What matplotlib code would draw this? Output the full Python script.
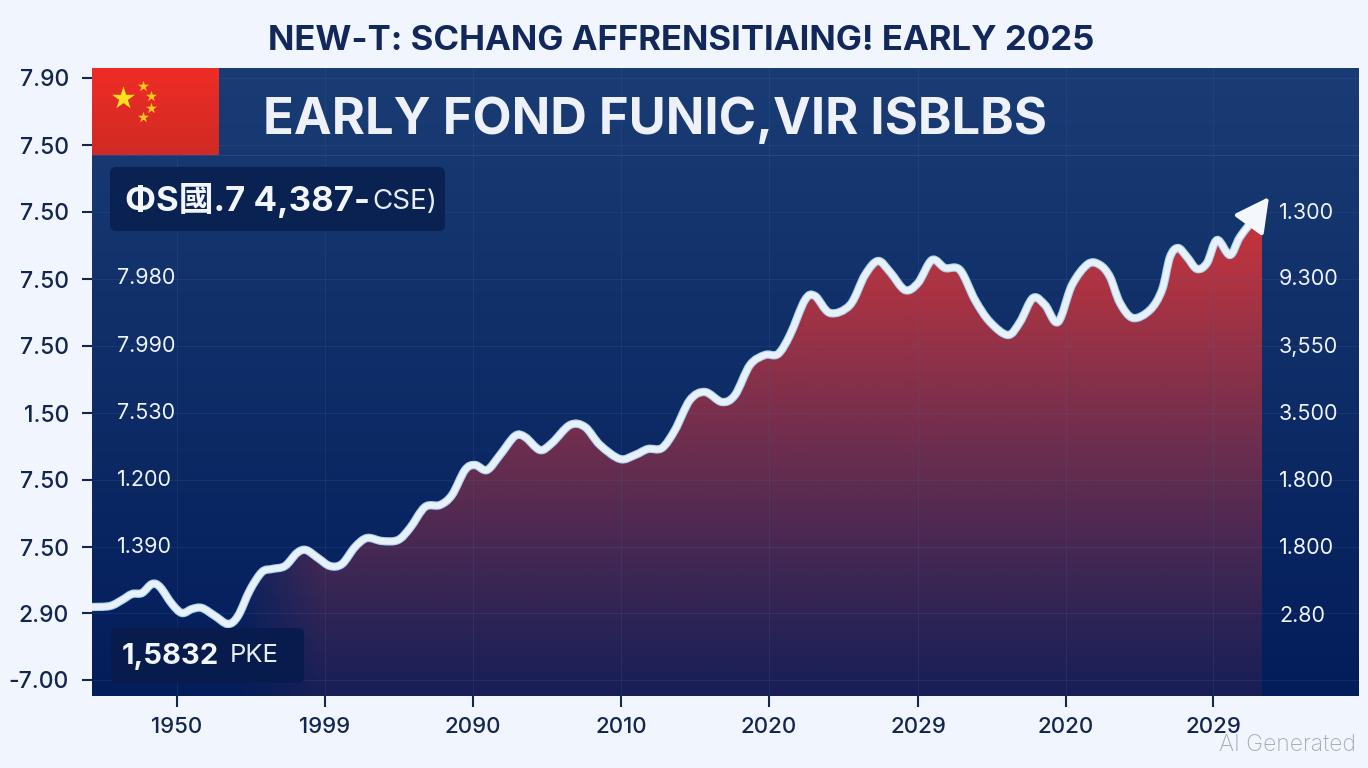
import numpy as np
import matplotlib
matplotlib.use('Agg')
import matplotlib.pyplot as plt
from matplotlib.path import Path
from matplotlib.patches import PathPatch, FancyBboxPatch

# values, x = position along the axis, y = level on the axis
line_x = [0, 18, 30, 40, 50, 60, 68, 80, 90, 100, 110, 123, 136, 146, 158, 170, 180, 193, 205, 214,
          226, 238, 250, 263, 275, 290, 306, 318, 333, 348, 360, 373, 383, 395, 408, 423, 433, 448, 460, 478,
          493, 508, 528, 543, 556, 570, 583, 598, 613, 630, 643, 658, 673, 686, 698, 713, 723, 738, 758, 773,
          786, 798, 813, 826, 840, 853, 868, 883, 898, 916, 928, 941, 953, 966, 980, 996, 1008, 1018, 1028, 1041,
          1058, 1070, 1078, 1086, 1095, 1105, 1115, 1125, 1138, 1148, 1165]
line_y = [89, 90, 96, 102, 103, 112, 109, 92, 83, 87, 88, 80, 72, 80, 106, 124, 127, 130, 143, 146,
          138, 130, 132, 149, 158, 155, 156, 168, 189, 191, 201, 226, 231, 226, 241, 260, 259, 246, 253, 271,
          269, 251, 237, 241, 247, 248, 266, 296, 304, 294, 301, 331, 341, 342, 361, 396, 400, 383, 391, 421,
          435, 424, 406, 413, 436, 428, 426, 396, 374, 361, 374, 398, 391, 374, 411, 432, 431, 419, 393, 378,
          386, 406, 439, 448, 439, 427, 433, 456, 441, 459, 481]

x_ticks = [85, 233, 381, 529, 677, 826, 974, 1121]
x_labels = ['1950', '1999', '2090', '2010', '2020', '2029', '2020', '2029']
y_ticks = [16, 83, 149, 216, 283, 350, 417, 484, 551, 618]
y_labels = ['-7.00', '2.90', '7.50', '7.50', '1.50', '7.50', '7.50', '7.50', '7.50', '7.90']

inner_left_y = [149, 216, 283, 350, 418]
inner_left = ['1.390', '1.200', '7.530', '7.990', '7.980']
inner_right_y = [80, 148, 215, 282, 349, 417, 483]
inner_right = ['2.80', '1.800', '1.800', '3.500', '3,550', '9.300', '1.300']

arrow_tip = (1177, 499)
flag_star = (31, 598)
flag_small_x = [51, 59, 59, 51]
flag_small_y = [610, 600, 588, 579]

NAVY = '#12264f'
X_MAX, Y_MAX = 1267, 628

plt.rcParams['font.family'] = ['Inter', 'Noto Sans CJK SC', 'DejaVu Sans']

fig = plt.figure(figsize=(13.68, 7.68), dpi=100, facecolor='#f1f5fd')
ax = fig.add_axes([92 / 1368, 1 - 696 / 768, X_MAX / 1368, Y_MAX / 768])

# panel background, lighter on top
top = np.array([26, 60, 116]) / 255
bottom = np.array([3, 29, 90]) / 255
t = np.linspace(0, 1, 256)[:, None, None]
bg = top * (1 - t) + bottom * t
ax.imshow(bg, extent=[0, X_MAX, 0, Y_MAX], aspect='auto', zorder=0)

# smooth path through the points
pts = np.column_stack([line_x, line_y]).astype(float)
verts = [pts[0]]
codes = [Path.MOVETO]
for i in range(len(pts) - 1):
    p0 = pts[max(i - 1, 0)]
    p1 = pts[i]
    p2 = pts[i + 1]
    p3 = pts[min(i + 2, len(pts) - 1)]
    verts += [p1 + (p2 - p0) / 6, p2 - (p3 - p1) / 6, p2]
    codes += [Path.CURVE4] * 3
curve = Path(verts, codes)
closed = Path(verts + [(line_x[-1] + 5, line_y[-1] + 8), (line_x[-1] + 5, 0), (line_x[0], 0), (line_x[0], line_y[0])],
              codes + [Path.LINETO] * 4)

# red area, fades downward and toward the left
h, w = 314, 634
rgba = np.zeros((h, w, 4))
rgba[..., :3] = np.array([226, 52, 52]) / 255
yy = np.linspace(1, 0, h)[:, None]
xx = np.linspace(0, X_MAX, w)[None, :]
level = np.clip((yy * Y_MAX) / 490, 0, 1)
rgba[..., 3] = (0.1 + 0.8 * level ** 1.2) * np.clip((xx - 140) / 90, 0, 1)
im = ax.imshow(rgba, extent=[0, X_MAX, 0, Y_MAX], aspect='auto', zorder=2)
clip_patch = PathPatch(closed, transform=ax.transData, fc='none', ec='none')
ax.add_patch(clip_patch)
im.set_clip_path(clip_patch)

# header band
ax.axhline(541, color='#2f5490', lw=0.8, alpha=0.6, zorder=2.6)
flag = np.zeros((60, 2, 3))
f = np.linspace(0, 1, 60)[:, None, None]
flag[:] = np.array([238, 45, 38]) / 255 * (1 - f) + np.array([208, 42, 36]) / 255 * f
ax.imshow(flag, extent=[0, 127, 541, Y_MAX], aspect='auto', zorder=3)
ax.set_xlim(0, X_MAX)
ax.set_ylim(0, Y_MAX)
ax.scatter(*flag_star, marker='*', s=300, color='#fbe21d', lw=0, zorder=3.1)
ax.scatter(flag_small_x, flag_small_y, marker='*', s=70, color='#f7c61c', lw=0, zorder=3.1)

# the line
ax.add_patch(PathPatch(curve, fc='none', ec='#a9d3f0', lw=6, capstyle='round', joinstyle='round', zorder=3))
ax.add_patch(PathPatch(curve, fc='none', ec='#e8f1f8', lw=4.4, capstyle='round', joinstyle='round', zorder=3.1))
ax.annotate('', xy=arrow_tip, xytext=(line_x[-2], line_y[-2]), zorder=3.2,
            arrowprops=dict(arrowstyle='-|>,head_length=0.95,head_width=0.5', mutation_scale=22, color='#f4f8fc',
                            lw=3, shrinkA=0, shrinkB=0))

# grid + ticks
ax.set_axisbelow(False)
ax.grid(True, color='#4a6aa0', lw=0.8, alpha=0.18)
ax.set_xticks(x_ticks)
ax.set_xticklabels(x_labels)
ax.set_yticks(y_ticks)
ax.set_yticklabels(y_labels)
ax.tick_params(axis='x', length=8, width=1.5, color=NAVY, labelcolor=NAVY, labelsize=16, pad=7)
ax.tick_params(axis='y', length=7.5, width=1.5, color=NAVY, labelcolor=NAVY, labelsize=16.5, pad=9)
for lab in ax.get_xticklabels() + ax.get_yticklabels():
    lab.set_fontweight('medium')
for s in ax.spines.values():
    s.set_visible(False)

# labels inside the panel
for v, s in zip(inner_left_y, inner_left):
    ax.text(25, v, s, color='#eef4fb', fontsize=15.5, va='center', ha='left', zorder=4)
for v, s in zip(inner_right_y, inner_right):
    ax.text(1187, v, s, color='#eef4fb', fontsize=15.5, va='center', ha='left', zorder=4)

# value boxes
ax.add_patch(FancyBboxPatch((18, 465), 335, 64, boxstyle='round,pad=0,rounding_size=6', fc='#0a2252', ec='none', zorder=3.5))
ax.text(33, 495, 'ΦS國.7 4,387-', color='#f2f6fb', fontsize=25, fontweight='bold', va='center', ha='left', zorder=4)
ax.text(280, 494, 'CSE)', color='#e6edf6', fontsize=20, va='center', ha='left', zorder=4)
ax.add_patch(FancyBboxPatch((19, 13), 193, 55, boxstyle='round,pad=0,rounding_size=6', fc='#071c4d', ec='none', zorder=3.5))
ax.text(30, 40, '1,5832', color='#f2f6fb', fontsize=21, fontweight='bold', va='center', ha='left', zorder=4)
ax.text(138, 40, 'PKE', color='#e6edf6', fontsize=18.5, va='center', ha='left', zorder=4)

# titles
ax.text(171, 576, 'EARLY FOND FUNIC,VIR ISBLBS', color='#eef2f8', fontsize=36.5, fontweight='bold', va='center', ha='left', zorder=4)
fig.text(681 / 1368, 1 - 41 / 768, 'NEW-T: SCHANG AFFRENSITIAING! EARLY 2025', color='#12275a', fontsize=25,
         fontweight='bold', va='center', ha='center')
fig.text(1356 / 1368, 1 - 745 / 768, 'AI Generated', color='#a8acb4', fontsize=16.5, fontweight='light', va='center', ha='right')

fig.savefig('out.png', dpi=100, facecolor=fig.get_facecolor())
